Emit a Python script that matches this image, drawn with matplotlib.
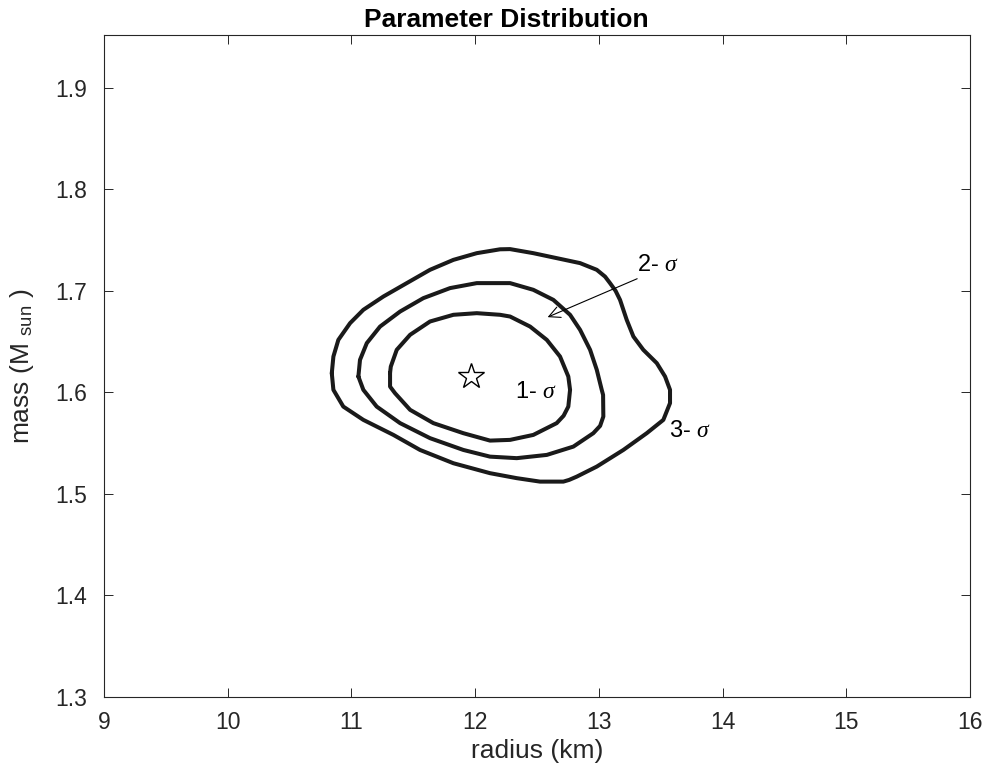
import numpy as np
import matplotlib
matplotlib.use("Agg")
import matplotlib.pyplot as plt

plt.rcParams['font.family'] = ['Liberation Sans', 'DejaVu Sans']
plt.rcParams['mathtext.fontset'] = 'custom'
plt.rcParams['mathtext.rm'] = 'Liberation Sans'
plt.rcParams['mathtext.it'] = 'Liberation Serif:italic'

# contour outlines (radius km, mass Msun)
sigma3_r = [10.841, 10.854, 10.894, 10.989, 11.096, 11.258, 11.447, 11.635, 11.824, 12.013,
            12.201, 12.282, 12.470, 12.659, 12.848, 12.983, 13.050, 13.090, 13.135, 13.171,
            13.225, 13.279, 13.359, 13.468, 13.535, 13.575, 13.575, 13.521, 13.387, 13.198,
            12.983, 12.821, 12.760, 12.713, 12.524, 12.336, 12.120, 11.824, 11.554, 11.339,
            11.096, 10.934, 10.854, 10.841]
sigma3_m = [1.6189, 1.6353, 1.6517, 1.6682, 1.6813, 1.6944, 1.7076, 1.7207, 1.7305, 1.7371,
            1.7409, 1.7411, 1.7371, 1.7322, 1.7273, 1.7207, 1.7140, 1.7076, 1.7000, 1.6911,
            1.6714, 1.6550, 1.6419, 1.6288, 1.6156, 1.6025, 1.5894, 1.5729, 1.5598, 1.5433,
            1.5269, 1.5170, 1.5138, 1.5121, 1.5121, 1.5155, 1.5204, 1.5302, 1.5433, 1.5581,
            1.5729, 1.5860, 1.6025, 1.6189]

sigma2_r = [11.056, 11.069, 11.124, 11.231, 11.393, 11.581, 11.797, 12.013, 12.201, 12.282,
            12.470, 12.632, 12.767, 12.848, 12.929, 12.983, 13.023, 13.034, 13.036, 13.010,
            12.955, 12.794, 12.579, 12.336, 12.120, 11.904, 11.635, 11.393, 11.204, 11.096,
            11.056]
sigma2_m = [1.6156, 1.6320, 1.6485, 1.6648, 1.6796, 1.6928, 1.7027, 1.7076, 1.7076, 1.7076,
            1.7010, 1.6911, 1.6764, 1.6616, 1.6419, 1.6222, 1.6025, 1.5975, 1.5762, 1.5670,
            1.5598, 1.5466, 1.5384, 1.5352, 1.5367, 1.5433, 1.5549, 1.5697, 1.5860, 1.6025,
            1.6156]

sigma1_r = [11.312, 11.318, 11.366, 11.474, 11.635, 11.824, 12.013, 12.201, 12.282, 12.444,
            12.579, 12.686, 12.753, 12.767, 12.753, 12.715, 12.659, 12.470, 12.282, 12.120,
            11.904, 11.662, 11.474, 11.352, 11.312, 11.312]
sigma1_m = [1.6192, 1.6254, 1.6419, 1.6567, 1.6698, 1.6764, 1.6780, 1.6764, 1.6747, 1.6648,
            1.6517, 1.6353, 1.6156, 1.6025, 1.5860, 1.5770, 1.5697, 1.5581, 1.5532, 1.5525,
            1.5598, 1.5697, 1.5828, 1.5992, 1.6057, 1.6192]

best_r = 11.965
best_m = 1.6166

labels = ['1- $\\sigma$', '2- $\\sigma$', '3- $\\sigma$']
label_r = [12.32, 13.31, 13.57]
label_m = [1.600, 1.7256, 1.562]
arrow_tip = (12.565, 1.673)
arrow_tail = (13.33, 1.713)

x_ticks = [9, 10, 11, 12, 13, 14, 15, 16]
y_ticks = [1.3, 1.4, 1.5, 1.6, 1.7, 1.8, 1.9]

fig = plt.figure(figsize=(9.88, 7.72), dpi=100)
ax = fig.add_axes([0.1053, 0.0972, 0.8765, 0.8575])

for r, m in [(sigma3_r, sigma3_m), (sigma2_r, sigma2_m), (sigma1_r, sigma1_m)]:
    ax.plot(r, m, color='#1a1a1a', lw=2.9, solid_joinstyle='round', solid_capstyle='round')

ax.plot(best_r, best_m, marker='*', ms=19, mfc='white', mec='black', mew=1.0, ls='none')

for lab, r, m in zip(labels, label_r, label_m):
    ax.text(r, m, lab, fontsize=17, va='center', ha='left', color='black')

ax.annotate('', xy=arrow_tip, xytext=arrow_tail,
            arrowprops=dict(arrowstyle='->', lw=0.8, color='black', mutation_scale=20))

ax.set_xlim(9, 16)
ax.set_ylim(1.3, 1.952)
ax.set_xticks(x_ticks)
ax.set_yticks(y_ticks)
ax.set_yticklabels([str(v) for v in y_ticks])

ax.tick_params(direction='in', length=6.7, width=0.7, top=True, right=True,
               labelsize=16.5, colors='#262626')
ax.tick_params(axis='x', pad=10)
ax.tick_params(axis='y', pad=12)
for s in ax.spines.values():
    s.set_color('#262626')
    s.set_linewidth(0.8)

ax.set_xlabel('radius (km)', fontsize=19, color='#262626', labelpad=4)
ax.set_ylabel('mass (M $_{\\rm sun}$ )', fontsize=19, color='#262626', labelpad=14)
ax.set_title('Parameter Distribution', fontsize=19, fontweight='bold', color='black',
             pad=6, x=0.465)

fig.savefig('out.png', dpi=100)
